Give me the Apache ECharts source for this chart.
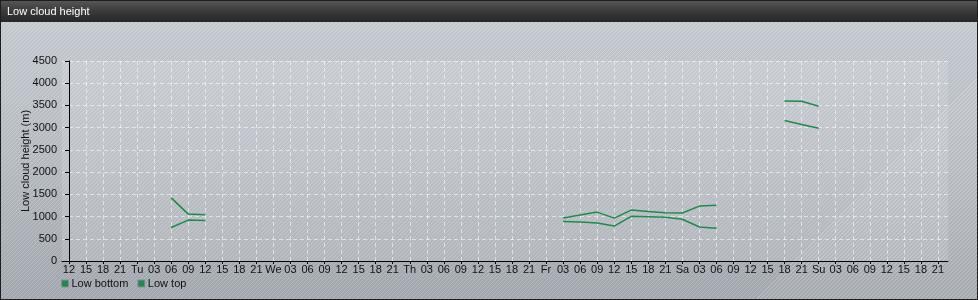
<!DOCTYPE html>
<html>
<head>
<meta charset="utf-8">
<script src="https://cdn.jsdelivr.net/npm/echarts@6/dist/echarts.min.js"></script>
<style>
  html, body { margin: 0; padding: 0; }
  #wrap {
    position: relative; width: 978px; height: 300px; box-sizing: border-box;
    border: 1px solid #1e1e1e;
    background:
      repeating-linear-gradient(135deg, rgba(255,255,255,0.16) 0px, rgba(255,255,255,0.16) 1px, rgba(120,135,160,0.10) 1px, rgba(120,135,160,0.10) 2.83px),
      linear-gradient(to bottom, #cdd1d6 0%, #bcc0c5 50%, #a6aaaf 100%);
  }
  #bar {
    position: absolute; left: 0; top: 0; width: 976px; height: 21px;
    background: linear-gradient(to bottom, #555 0%, #3a3a3a 50%, #262626 100%);
  }
  #chart { position: absolute; left: -1px; top: -1px; width: 978px; height: 300px; }
</style>
</head>
<body>
<div id="wrap"><div id="bar"></div><div id="chart"></div></div>
<script>
const tickLabels = ['12','15','18','21',
  'Tu','03','06','09','12','15','18','21',
  'We','03','06','09','12','15','18','21',
  'Th','03','06','09','12','15','18','21',
  'Fr','03','06','09','12','15','18','21',
  'Sa','03','06','09','12','15','18','21',
  'Su','03','06','09','12','15','18','21'];

const lowBottom = [null,null,null,null,null,null,755,920,910,null,null,null,
  null,null,null,null,null,null,null,null,null,null,null,null,null,null,null,null,
  null,890,875,855,785,1005,995,985,940,765,735,null,null,null,3160,3070,2985,
  null,null,null,null,null,null,null];
const lowTop = [null,null,null,null,null,null,1420,1055,1040,null,null,null,
  null,null,null,null,null,null,null,null,null,null,null,null,null,null,null,null,
  null,970,1035,1100,965,1145,1115,1085,1080,1235,1255,null,null,null,3600,3595,3480,
  null,null,null,null,null,null,null];

const yTicks = [0,500,1000,1500,2000,2500,3000,3500,4000,4500];

const xIdx = tickLabels.map((_, i) => i);
const toPairs = arr => arr.map((v, i) => [i, v]);

const chart = echarts.init(document.getElementById('chart'), null, {renderer: 'canvas'});
const font = 'Liberation Sans, Arial, sans-serif';
const green = '#1f8a4d';
chart.setOption({
  backgroundColor: 'transparent',
  animation: false,
  textStyle: { fontFamily: font },
  title: {
    text: 'Low cloud height', left: 7, top: 6, padding: 0,
    textStyle: { color: '#ffffff', fontSize: 11, fontWeight: 'normal', fontFamily: font }
  },
  legend: {
    left: 56, top: 273, itemWidth: 7, itemHeight: 7, itemGap: 9,
    icon: 'rect',
    textStyle: { fontSize: 11, color: '#111', fontFamily: font, padding: [0, 0, 0, -2] },
    itemStyle: { borderColor: '#8a8f95', borderWidth: 1 },
    data: ['Low bottom', 'Low top']
  },
  grid: {
    left: 62, top: 61, right: 30, bottom: 39, show: true,
    backgroundColor: 'rgba(255,255,255,0.13)', borderWidth: 0
  },
  xAxis: {
    type: 'value', min: -0.41, max: 51.59,
    axisLine: { lineStyle: { color: '#000', width: 1 } },
    axisTick: { show: true, length: 3, customValues: xIdx, lineStyle: { color: '#000' } },
    axisLabel: {
      customValues: xIdx, color: '#111', fontSize: 11, margin: 3, fontFamily: font,
      formatter: v => tickLabels[Math.round(v)]
    },
    splitLine: { show: true, lineStyle: { color: 'rgba(255,255,255,0.55)', type: [4, 3] } }
  },
  yAxis: {
    type: 'value', min: 0, max: 4500, interval: 500,
    name: 'Low cloud height (m)', nameLocation: 'middle', nameGap: 31, nameMoveOverlap: false,
    nameTextStyle: { fontSize: 11, color: '#111', fontFamily: font },
    axisLine: { show: true, lineStyle: { color: '#000', width: 1 } },
    axisTick: { show: true, length: 4, lineStyle: { color: '#000' } },
    axisLabel: { color: '#111', fontSize: 11, margin: 5, fontFamily: font,
      formatter: v => yTicks.includes(v) ? String(v) : '' },
    splitLine: { show: true, lineStyle: { color: 'rgba(255,255,255,0.55)', type: [4, 3] } }
  },
  series: [
    { name: 'Low bottom', type: 'line', data: toPairs(lowBottom), connectNulls: false,
      showSymbol: false, symbol: 'none', color: green, lineStyle: { width: 1.5, color: green } },
    { name: 'Low top', type: 'line', data: toPairs(lowTop), connectNulls: false,
      showSymbol: false, symbol: 'none', color: green, lineStyle: { width: 1.5, color: green } }
  ]
});
</script>
</body>
</html>
